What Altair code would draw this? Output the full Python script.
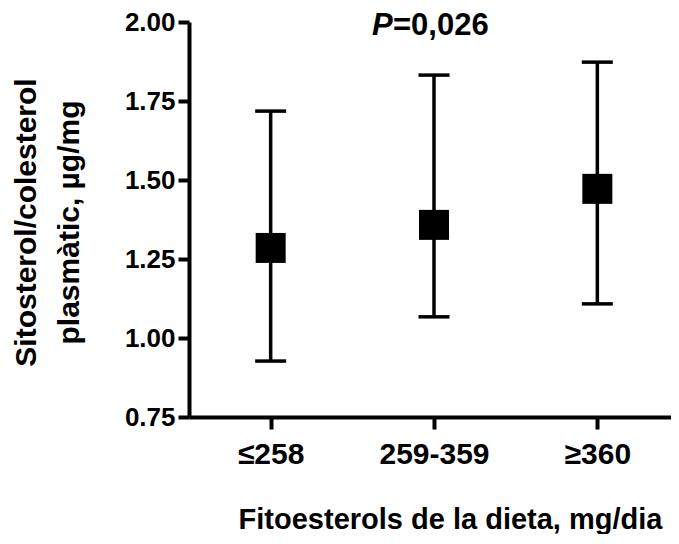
import altair as alt
import pandas as pd

# ---- data ----
categories = ["≤258", "259-359", "≥360"]
means = [1.285, 1.358, 1.472]
lower = [0.927, 1.067, 1.108]
upper = [1.718, 1.832, 1.873]
y_ticks = [0.75, 1.00, 1.25, 1.50, 1.75, 2.00]
y_title = ["Sitosterol/colesterol", "plasmàtic, µg/mg"]
x_title = "Fitoesterols de la dieta, mg/dia"
p_parts = ["P", "=0,026"]

df = pd.DataFrame({"cat": categories, "mean": means, "lo": lower, "hi": upper})

FONT = "Liberation Sans"
W, H = 490, 395

x_scale = alt.Scale(type="point", padding=0.5, domain=categories)
y_scale = alt.Scale(domain=[0.75, 2.0], nice=False, zero=False)

x_axis = alt.Axis(
    title=x_title, titleFont=FONT, titleFontSize=29, titleFontWeight="bold",
    titleColor="black", titleBaseline="alphabetic", titleAlign="center",
    titleX=261, titleY=111,
    labelAngle=0, labelFont=FONT, labelFontSize=30, labelFontWeight="bold",
    labelColor="black", labelPadding=10,
    tickSize=12, tickWidth=4, tickColor="black",
    domainColor="black", domainWidth=4, grid=False,
)
y_axis = alt.Axis(
    title=y_title, titleFont=FONT, titleFontSize=30, titleFontWeight="bold",
    titleColor="black", titleBaseline="alphabetic", titleAlign="center",
    titleAngle=270, titleX=-154, titleY=200, titleLineHeight=43,
    values=y_ticks, format=".2f",
    labelFont=FONT, labelFontSize=26, labelFontWeight="bold", labelColor="black",
    labelPadding=3, labelFlush=False, labelOverlap=False,
    tickSize=11, tickWidth=4, tickColor="black",
    domainColor="black", domainWidth=4, grid=False,
)

base = alt.Chart(df)
X = alt.X("cat:N", scale=x_scale, axis=x_axis)

whisker = base.mark_rule(color="black", strokeWidth=3.5).encode(
    x=X,
    y=alt.Y("lo:Q", scale=y_scale, axis=y_axis),
    y2="hi:Q",
)
cap_lo = base.mark_tick(orient="horizontal", size=31, thickness=3.5,
                        color="black", opacity=1).encode(
    x=X, y=alt.Y("lo:Q", scale=y_scale, axis=y_axis))
cap_hi = base.mark_tick(orient="horizontal", size=31, thickness=3.5,
                        color="black", opacity=1).encode(
    x=X, y=alt.Y("hi:Q", scale=y_scale, axis=y_axis))
squares = base.mark_square(size=900, color="black", opacity=1).encode(
    x=X, y=alt.Y("mean:Q", scale=y_scale, axis=y_axis))

ann = pd.DataFrame({"cat": [categories[1]], "yv": [y_ticks[-1]]})
p_italic = alt.Chart(ann).mark_text(
    text=p_parts[0], font=FONT, fontSize=31, fontWeight="bold",
    fontStyle="italic", color="black", align="left", baseline="alphabetic",
    dx=-62, dy=13,
).encode(
    x=X,
    y=alt.Y("yv:Q", scale=y_scale, axis=y_axis),
)
p_value = alt.Chart(ann).mark_text(
    text=p_parts[1], font=FONT, fontSize=31, fontWeight="bold",
    color="black", align="left", baseline="alphabetic",
    dx=-41, dy=13,
).encode(
    x=X,
    y=alt.Y("yv:Q", scale=y_scale, axis=y_axis),
)

chart = alt.layer(whisker, cap_lo, cap_hi, squares, p_italic, p_value).properties(
    width=W, height=H,
    autosize=alt.AutoSizeParams(type="none"),
    padding={"left": 181, "top": 14, "right": -8, "bottom": 117},
    background="white",
).configure_view(stroke="transparent")

chart.save("out.html", embed_options={"renderer": "svg", "actions": False})
